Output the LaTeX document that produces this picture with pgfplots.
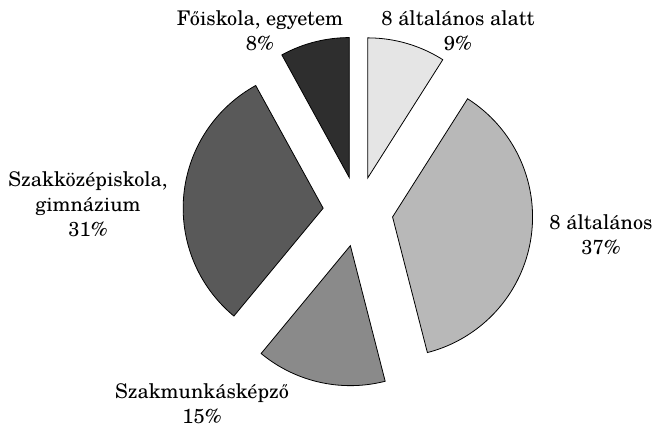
\documentclass[border=0pt]{standalone}
\usepackage{pgfplots}
\pgfplotsset{compat=1.18}
\usepackage{fontspec}
\setmainfont{TeX Gyre Schola}
\definecolor{s1}{gray}{0.90}
\definecolor{s2}{gray}{0.72}
\definecolor{s3}{gray}{0.54}
\definecolor{s4}{gray}{0.35}
\definecolor{s5}{gray}{0.18}
\newcommand\pieR{140}
\newcommand\pieE{35}
% #1 = cumulative percent before slice, #2 = slice percent, #3 = colour
\newcommand\slice[3]{%
 \pgfmathsetmacro\aS{90-3.6*(#1)}%
 \pgfmathsetmacro\aE{90-3.6*(#1+#2)}%
 \pgfmathsetmacro\aM{(\aS+\aE)/2}%
 \pgfmathsetmacro\sliceCX{\pieE*cos(\aM)}%
 \pgfmathsetmacro\sliceCY{\pieE*sin(\aM)}%
 \edef\temp{\noexpand\addplot[fill=#3,draw=black,line width=0.8pt,domain=\aE:\aS,samples=90]
   ({\sliceCX+\pieR*cos(x)},{\sliceCY+\pieR*sin(x)}) -- (axis cs:\sliceCX,\sliceCY) -- cycle;}%
 \temp}
\begin{document}
\begin{tikzpicture}
\begin{axis}[width=654pt,height=428pt,scale only axis,
  xmin=-358,xmax=296,ymin=-216.5,ymax=211.5,hide axis,clip=false]
\slice{0}{9}{s1}
\slice{9}{37}{s2}
\slice{46}{15}{s3}
\slice{61}{31}{s4}
\slice{92}{8}{s5}
\tikzset{lab/.style={align=center,font=\fontsize{20.2}{25}\selectfont,inner sep=0pt}}
\node[lab] at (axis cs:-98,180.5) {Főiskola, egyetem\\8\%};
\node[lab] at (axis cs:100,180.5) {8 általános alatt\\9\%};
\node[lab] at (axis cs:-270,7.5) {Szakközépiskola,\\gimnázium\\31\%};
\node[lab] at (axis cs:243,-23) {8 általános\\37\%};
\node[lab] at (axis cs:-156,-192.5) {Szakmunkásképző\\15\%};
\end{axis}
\path (current axis.south west) rectangle (current axis.north east);
\end{tikzpicture}
\end{document}
